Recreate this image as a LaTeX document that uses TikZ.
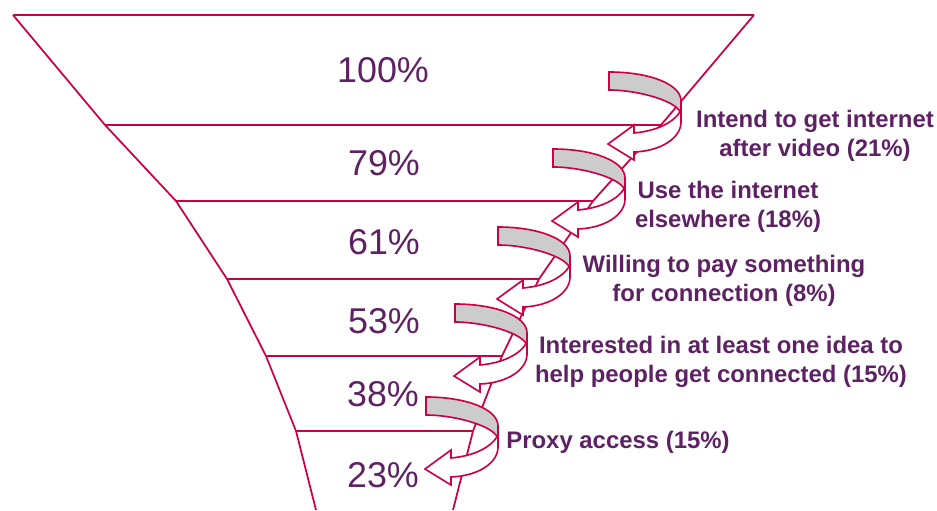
\documentclass[tikz,border=0pt]{standalone}
\usepackage{fontspec}
\setmainfont{Liberation Sans}
\definecolor{carmin}{RGB}{204,0,68}
\definecolor{morado}{RGB}{94,34,100}
\definecolor{grisbanda}{RGB}{204,204,204}
\begin{document}
\begin{tikzpicture}[x=0.03cm, y=-0.03cm,
        borde/.style={draw=carmin, line width=1.5pt},
        porcentaje/.style={text=morado, font=\fontsize{30.6}{36}\selectfont},
        etiqueta/.style={text=morado, align=center, font=\fontsize{20.4}{24.7}\selectfont\bfseries},
        banda/.style={draw=carmin, line width=1.4pt, line join=miter},
        flechacurva/.pic={
            \path[banda, fill=grisbanda] (0,0) .. controls (40,0) and (72,12) .. (72,29)
                -- (72,43) .. controls (72,30) and (30,18) .. (0,18) -- cycle;
            \path[banda, fill=white] (72,38) -- (72,50) .. controls (72,66) and (52,79) .. (25,80)
                -- (25,88) -- (-1,72) -- (25,53) -- (25,61) .. controls (48,59) and (66,50) .. (72,38) -- cycle;
        }
    ]
    \useasboundingbox (0,0) rectangle (937,510);
    % embudo
    \coordinate (l0) at (13,15);   \coordinate (r0) at (754,15);
    \coordinate (l1) at (105,125); \coordinate (r1) at (661,125);
    \coordinate (l2) at (176,201); \coordinate (r2) at (593,201);
    \coordinate (l3) at (227,279); \coordinate (r3) at (539,279);
    \coordinate (l4) at (266,356); \coordinate (r4) at (502,356);
    \coordinate (l5) at (296,431); \coordinate (r5) at (473,431);
    \coordinate (l6) at (316,510); \coordinate (r6) at (453,510);
    \draw[borde] (l0) -- (l1) -- (l2) -- (l3) -- (l4) -- (l5) -- (l6);
    \draw[borde] (r0) -- (r1) -- (r2) -- (r3) -- (r4) -- (r5) -- (r6);
    \draw[borde] (l0) -- (r0);
    \draw[borde] (l1) -- (r1);
    \draw[borde] (l2) -- (r2);
    \draw[borde] (l3) -- (r3);
    \draw[borde] (l4) -- (r4);
    \draw[borde] (l5) -- (r5);
    % porcentajes
    \node[porcentaje] (p100) at (383,70) {100\%};
    \node[porcentaje] (p79) at (384,163) {79\%};
    \node[porcentaje] (p61) at (384,242) {61\%};
    \node[porcentaje] (p53) at (384,321) {53\%};
    \node[porcentaje] (p38) at (383,394) {38\%};
    \node[porcentaje] (p23) at (383,475) {23\%};
    % flechas
    \pic (f1) at (609,72) {flechacurva};
    \pic (f2) at (553,149) {flechacurva};
    \pic (f3) at (498,227) {flechacurva};
    \pic (f4) at (455,304) {flechacurva};
    \pic (f5) at (426,397) {flechacurva};
    % etiquetas
    \node[etiqueta] (e1) at (815,136) {Intend to get internet\\after video (21\%)};
    \node[etiqueta] (e2) at (728,207) {Use the internet\\elsewhere (18\%)};
    \node[etiqueta] (e3) at (724,281) {Willing to pay something\\for connection (8\%)};
    \node[etiqueta] (e4) at (721,362) {Interested in at least one idea to\\help people get connected (15\%)};
    \node[etiqueta] (e5) at (618,442) {Proxy access (15\%)};
\end{tikzpicture}
\end{document}
